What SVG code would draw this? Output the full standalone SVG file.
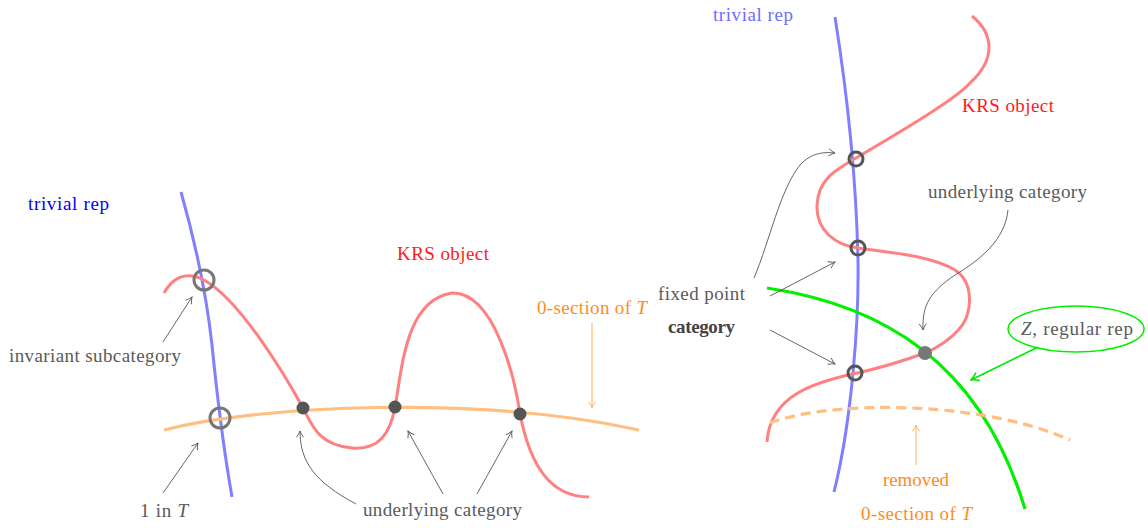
<svg xmlns="http://www.w3.org/2000/svg" width="1148" height="528" viewBox="0 0 1148 528" font-family="'Liberation Serif', 'DejaVu Serif', serif">
<style>
text{font-family:'Liberation Serif','DejaVu Serif',serif;font-size:19px;fill:#5a5a5a}
.blue{fill:none;stroke:#8080ff;stroke-width:3}
.red{fill:none;stroke:#ff8080;stroke-width:3}
.orange{fill:none;stroke:#ffbf80;stroke-width:3.2}
.green{fill:none;stroke:#00f000;stroke-width:3.2}
.ring{fill:none;stroke:#777;stroke-width:3}
.ring2{fill:none;stroke:#555;stroke-width:3}
.dot{fill:#555}
.arr{fill:none;stroke:#555;stroke-width:0.9;marker-end:url(#ah)}
.arro{fill:none;stroke:#ffb366;stroke-width:1.1;marker-end:url(#aho)}
.arrg{fill:none;stroke:#00e600;stroke-width:1.5;marker-end:url(#ahg)}
</style>
<defs>
<marker id="ah" viewBox="0 0 10 10" refX="9" refY="5" markerWidth="9" markerHeight="9" markerUnits="userSpaceOnUse" orient="auto"><path d="M2,1 Q6,4 9,5 Q6,6 2,9" fill="none" stroke="#555" stroke-width="1"/></marker>
<marker id="aho" viewBox="0 0 10 10" refX="9" refY="5" markerWidth="9" markerHeight="9" markerUnits="userSpaceOnUse" orient="auto"><path d="M2,1 Q6,4 9,5 Q6,6 2,9" fill="none" stroke="#ffb366" stroke-width="1.1"/></marker>
<marker id="ahg" viewBox="0 0 10 10" refX="9" refY="5" markerWidth="11" markerHeight="11" markerUnits="userSpaceOnUse" orient="auto"><path d="M2,1 Q6,4 9,5 Q6,6 2,9" fill="none" stroke="#00e600" stroke-width="1.4"/></marker>
</defs>

<!-- LEFT DIAGRAM -->
<g id="left-trivial-rep">
<path class="blue" d="M181,192 C196,245 206,290 212,345 C216,385 222,440 232,497"/>
<text x="28" y="210" style="fill:#0000ff" textLength="81">trivial rep</text>
</g>
<g id="left-zero-section">
<path class="orange" d="M164,430 C260,405 480,395 639,430"/>
<text x="537" y="314" style="fill:#ff8c1a" textLength="110">0-section of <tspan font-style="italic">T</tspan></text>
</g>
<g id="left-krs-object">
<path class="red" d="M164,293 C172,279 185,270 204,280 C240,300 285,375 303,408 C312,425 318,445 352,448 C378,450 390,435 395,407 C402,370 405,300 452,293 C495,292 515,380 520,414 C530,465 550,497 589,497"/>
<text x="397" y="260" style="fill:#ff1a1a" textLength="92">KRS object</text>
</g>
<g id="left-points">
<circle class="ring" cx="204" cy="280" r="10"/>
<circle class="ring" cx="220" cy="418" r="10"/>
<circle class="dot" cx="303" cy="408" r="6.5"/>
<circle class="dot" cx="395" cy="407" r="6.5"/>
<circle class="dot" cx="520" cy="414" r="6.5"/>
</g>
<g id="left-labels">
<text x="9" y="362" textLength="172">invariant subcategory</text>
<text x="140" y="517" textLength="48">1 in <tspan font-style="italic">T</tspan></text>
<text x="363" y="516" textLength="159">underlying category</text>
</g>

<!-- RIGHT DIAGRAM -->
<g id="right-trivial-rep">
<path class="blue" d="M835,17 C845,80 856,170 858,260 C859,320 852,420 834,492"/>
<text x="713" y="21" style="fill:#6e6eff" textLength="80">trivial rep</text>
</g>
<g id="right-krs-object">
<path class="red" d="M972,16 C995,35 995,60 970,83 C955,100 895,135 856,158 C835,170 818,180 817,205 C816,230 835,245 858,248 C885,252 930,255 955,270 C975,283 972,315 960,328 C950,340 935,349 925,353 C900,362 880,368 857,373 C815,382 770,395 767,442"/>
<text x="962" y="112" style="fill:#ff1a1a" textLength="92">KRS object</text>
</g>
<g id="right-regular-rep">
<path class="green" d="M767,288 C880,305 980,360 1025,509"/>
<ellipse cx="1076" cy="329" rx="68" ry="23" fill="none" stroke="#00f000" stroke-width="1.5"/>
<text x="1021" y="335" textLength="112"><tspan font-style="italic">Z</tspan>, regular rep</text>
</g>
<g id="right-zero-section">
<path class="orange" d="M770,423 C830,400 980,400 1070,440" stroke-dasharray="10,6"/>
<text x="883" y="486" style="fill:#ff8c1a" textLength="66">removed</text>
<text x="861" y="520" style="fill:#ff8c1a" textLength="111">0-section of <tspan font-style="italic">T</tspan></text>
</g>
<g id="right-points">
<circle class="ring2" cx="856" cy="159" r="7"/>
<circle class="ring2" cx="858" cy="248" r="7"/>
<circle class="ring2" cx="855" cy="373" r="7"/>
<circle cx="925" cy="353" r="7" fill="#777"/>
</g>
<g id="right-labels">
<text x="928" y="198" textLength="159">underlying category</text>
<text x="658" y="300" textLength="87">fixed point</text>
<text x="668" y="333" font-weight="bold" style="fill:#444" textLength="67">category</text>
</g>

<g id="connectors">
<path class="arr" d="M163,342 L192,297"/>
<path class="arr" d="M163,493 L198,443"/>
<path class="arr" d="M356,504 C315,482 300,462 300,431"/>
<path class="arr" d="M443,494 L408,431"/>
<path class="arr" d="M477,494 L512,431"/>
<path class="arro" d="M592,323 L592,408"/>
<path class="arr" d="M754,278 C770,240 780,190 800,165 C812,152 825,152 835,153"/>
<path class="arr" d="M770,296 L835,262"/>
<path class="arr" d="M770,330 L835,364"/>
<path class="arr" d="M1008,210 C1005,240 980,260 955,275 C930,292 922,305 923,330"/>
<path class="arrg" d="M1038,347 L971,380"/>
<path class="arro" d="M916,465 L916,425"/>
</g>
</svg>
